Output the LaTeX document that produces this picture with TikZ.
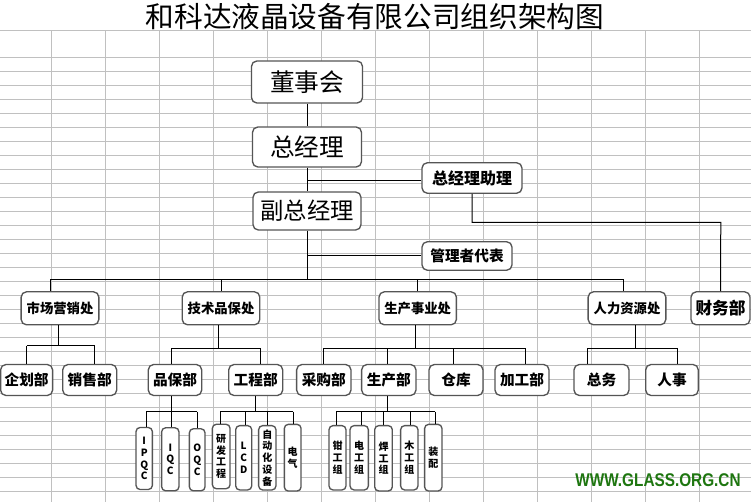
\documentclass[tikz,border=0pt]{standalone}
\usepackage{fontspec}
\setmainfont{Liberation Sans}
\newfontfamily\cjk{Noto Sans CJK SC}
\definecolor{gridgray}{RGB}{192,192,192}
\definecolor{boxgray}{RGB}{85,85,85}
\definecolor{wmgreen}{RGB}{30,118,16}
\begin{document}
\begin{tikzpicture}[x=0.75pt,y=-0.75pt]
\tikzset{
 gridl/.style={draw=gridgray, line width=0.75pt},
 box/.style={draw=boxgray, line width=1pt, rounded corners=4pt, fill=white, inner sep=0pt, align=center},
 sz/.style 2 args={minimum width={#1*0.75pt}, minimum height={#2*0.75pt}},
 conn/.style={draw=black, line width=0.75pt},
 bigtxt/.style={font=\cjk\fontsize{18.5}{20}\selectfont},
 lvtwo/.style={font=\cjk\bfseries\fontsize{10}{12}\selectfont},
 lvthree/.style={font=\cjk\bfseries\fontsize{11}{13}\selectfont},
 vbox/.style={box, rounded corners=3pt, font=\cjk\bfseries\fontsize{7.5}{8.8}\selectfont},
}
\useasboundingbox (0,0) rectangle (751,502);
\fill[white] (0,0) rectangle (751,502);
% grid
\draw[gridl] (0,31) -- (751,31);
\foreach \k in {0,...,31}{
  \pgfmathsetmacro{\yy}{57.3+14*\k}
  \draw[gridl] (0,\yy) -- (751,\yy);
}
\foreach \k in {0,...,12}{
  \pgfmathsetmacro{\xx}{51.7+54*\k}
  \draw[gridl] (\xx,31) -- (\xx,502);
}
% title
\node[font=\cjk\fontsize{21.5}{24}\selectfont, inner sep=0pt] (title) at (375,17) {和科达液晶设备有限公司组织架构图};

% top boxes
\node[box, sz={111}{42}, bigtxt] (dsh) at (307,82) {董事会};
\node[box, sz={109}{40}, bigtxt] (zjl) at (307,147) {总经理};
\node[box, sz={108}{38}, font=\cjk\fontsize{17.5}{20}\selectfont] (fzjl) at (307,211) {副总经理};
\node[box, sz={100}{30.5}, font=\cjk\bfseries\fontsize{12}{14}\selectfont] (zl) at (472,178) {总经理助理};
\node[box, sz={90}{28.5}, font=\cjk\bfseries\fontsize{11}{13}\selectfont] (glz) at (467,256) {管理者代表};

% second level
\node[box, sz={77.7}{33}, lvtwo] (scyx) at (60,308.3) {市场营销处};
\node[box, sz={77.6}{33}, lvtwo] (jspb) at (221,308.3) {技术品保处};
\node[box, sz={77.4}{33}, lvtwo] (scsy) at (417.7,308.3) {生产事业处};
\node[box, sz={77.7}{33}, lvtwo] (rlzy) at (627,308.3) {人力资源处};
\node[box, sz={59}{33}, font=\cjk\bfseries\fontsize{12.5}{14}\selectfont] (cwb) at (720.5,308.3) {财务部};

% third level
\node[box, sz={52}{31}, lvthree] (qhb) at (26.6,380) {企划部};
\node[box, sz={54}{31}, lvthree] (xsb) at (89.7,380) {销售部};
\node[box, sz={53.4}{31}, lvthree] (pbb) at (175,380) {品保部};
\node[box, sz={54}{31}, lvthree] (gcb) at (255.7,380) {工程部};
\node[box, sz={54.3}{31}, lvthree] (cgb) at (323.8,380) {采购部};
\node[box, sz={54.3}{31}, lvthree] (scb) at (388.8,380) {生产部};
\node[box, sz={54}{31}, lvthree] (ck) at (456,380) {仓库};
\node[box, sz={54}{31}, lvthree] (jgb) at (522,380) {加工部};
\node[box, sz={55}{31}, lvthree] (zw) at (601.5,380) {总务};
\node[box, sz={52.6}{31}, lvthree] (rs) at (672,380) {人事};

% fourth level
\node[vbox, sz={16.3}{62}] (ipqc) at (144.2,458.5) {I\\P\\Q\\C};
\node[vbox, sz={17.3}{63}] (iqc) at (170.3,459.3) {I\\Q\\C};
\node[vbox, sz={15.7}{62}] (oqc) at (197.2,459.8) {O\\Q\\C};
\node[vbox, sz={17.7}{64.4}] (yf) at (221.2,456.5) {研\\发\\工\\程};
\node[vbox, sz={16}{64.3}] (lcd) at (243.7,457.8) {L\\C\\D};
\node[vbox, sz={17.3}{64.3}] (zdh) at (267.3,457.8) {自\\动\\化\\设\\备};
\node[vbox, sz={16.7}{66.7}] (dq) at (292.7,457.7) {电\\气};
\node[vbox, sz={17}{64.3}] (qg) at (337.5,457.8) {钳\\工\\组};
\node[vbox, sz={18.3}{64.3}] (dg) at (359.2,457.8) {电\\工\\组};
\node[vbox, sz={17.6}{65.3}] (hg) at (383.5,458.3) {焊\\工\\组};
\node[vbox, sz={17.3}{64.3}] (mg) at (409.3,457.8) {木\\工\\组};
\node[vbox, sz={17.3}{66.7}] (zp) at (433.3,457.7) {装\\配};

% watermark
\node[font=\bfseries\fontsize{11.5}{13}\selectfont, text=wmgreen, inner sep=0pt] (wm) at (658,480.5) {\scalebox{1}[1.2]{WWW.GLASS.ORG.CN}};

% connectors: top
\draw[conn] (dsh.south) -- (zjl.north);
\draw[conn] (zjl.south) -- (fzjl.north);
\coordinate (j1) at (307,181);
\draw[conn] (j1) -- (j1 -| zl.west);
\coordinate (j2) at (307,256);
\draw[conn] (j2) -- (glz.west);
\coordinate (j3) at (720.8,222.3);
\draw[conn] (zl.south) |- (j3) -- (cwb.north);

% bus
\coordinate (busL) at (50.3,280);
\coordinate (busR) at (623.6,280);
\draw[conn] (fzjl.south) -- (fzjl.south |- busL);
\draw[conn] (busL) -- (busR);
\draw[conn] (busL) -- (busL |- scyx.north);
\draw[conn] (jspb.north |- busL) -- (jspb.north);
\draw[conn] (scsy.north |- busL) -- (scsy.north);
\draw[conn] (busR) -- (busR |- rlzy.north);

% third-level trees
\coordinate (m0) at (58.3,346);
\coordinate (m1) at (26.7,346);
\coordinate (m2) at (94.7,346);
\draw[conn] (m0 |- scyx.south) -- (m0);
\draw[conn] (m1) -- (m2);
\draw[conn] (m1) -- (m1 |- qhb.north);
\draw[conn] (m2) -- (m2 |- xsb.north);

\coordinate (t0) at (218.3,348.3);
\coordinate (t1) at (171.7,348.3);
\coordinate (t2) at (260.7,348.3);
\draw[conn] (t0 |- jspb.south) -- (t0);
\draw[conn] (t1) -- (t2);
\draw[conn] (t1) -- (t1 |- pbb.north);
\draw[conn] (t2) -- (t2 |- gcb.north);

\coordinate (s0) at (415.7,348.3);
\coordinate (s1) at (323.3,348.3);
\coordinate (s2) at (387.3,348.3);
\coordinate (s3) at (453.3,348.3);
\coordinate (s4) at (525.7,348.3);
\draw[conn] (s0 |- scsy.south) -- (s0);
\draw[conn] (s1) -- (s4);
\draw[conn] (s1) -- (s1 |- cgb.north);
\draw[conn] (s2) -- (s2 |- scb.north);
\draw[conn] (s3) -- (s3 |- ck.north);
\draw[conn] (s4) -- (s4 |- jgb.north);

\coordinate (r0) at (635.7,348.3);
\coordinate (r1) at (587.3,348.3);
\coordinate (r2) at (677.7,348.3);
\draw[conn] (r0 |- rlzy.south) -- (r0);
\draw[conn] (r1) -- (r2);
\draw[conn] (r1) -- (r1 |- zw.north);
\draw[conn] (r2) -- (r2 |- rs.north);

% fourth-level trees
\coordinate (p0) at (171.7,411.7);
\coordinate (p1) at (146,411.7);
\coordinate (p2) at (171.7,411.7);
\coordinate (p3) at (197.3,411.7);
\draw[conn] (p0 |- pbb.south) -- (p0);
\draw[conn] (p1) -- (p3);
\draw[conn] (p1) -- (p1 |- ipqc.north);
\draw[conn] (p2) -- (p2 |- iqc.north);
\draw[conn] (p3) -- (p3 |- oqc.north);

\coordinate (g0) at (255.7,411.7);
\coordinate (g1) at (220,411.7);
\coordinate (g2) at (245.7,411.7);
\coordinate (g3) at (267.3,411.7);
\coordinate (g4) at (293.3,411.7);
\draw[conn] (gcb.south) -- (g0);
\draw[conn] (g1) -- (g4);
\draw[conn] (g1) -- (g1 |- yf.north);
\draw[conn] (g2) -- (g2 |- lcd.north);
\draw[conn] (g3) -- (g3 |- zdh.north);
\draw[conn] (g4) -- (g4 |- dq.north);

\coordinate (c0) at (387.3,411.7);
\coordinate (c1) at (336,411.7);
\coordinate (c2) at (361,411.7);
\coordinate (c3) at (383.3,411.7);
\coordinate (c4) at (410.3,411.7);
\coordinate (c5) at (435,411.7);
\draw[conn] (c0 |- scb.south) -- (c0);
\draw[conn] (c1) -- (c5);
\draw[conn] (c1) -- (c1 |- qg.north);
\draw[conn] (c2) -- (c2 |- dg.north);
\draw[conn] (c3) -- (c3 |- hg.north);
\draw[conn] (c4) -- (c4 |- mg.north);
\draw[conn] (c5) -- (c5 |- zp.north);
\end{tikzpicture}
\end{document}
